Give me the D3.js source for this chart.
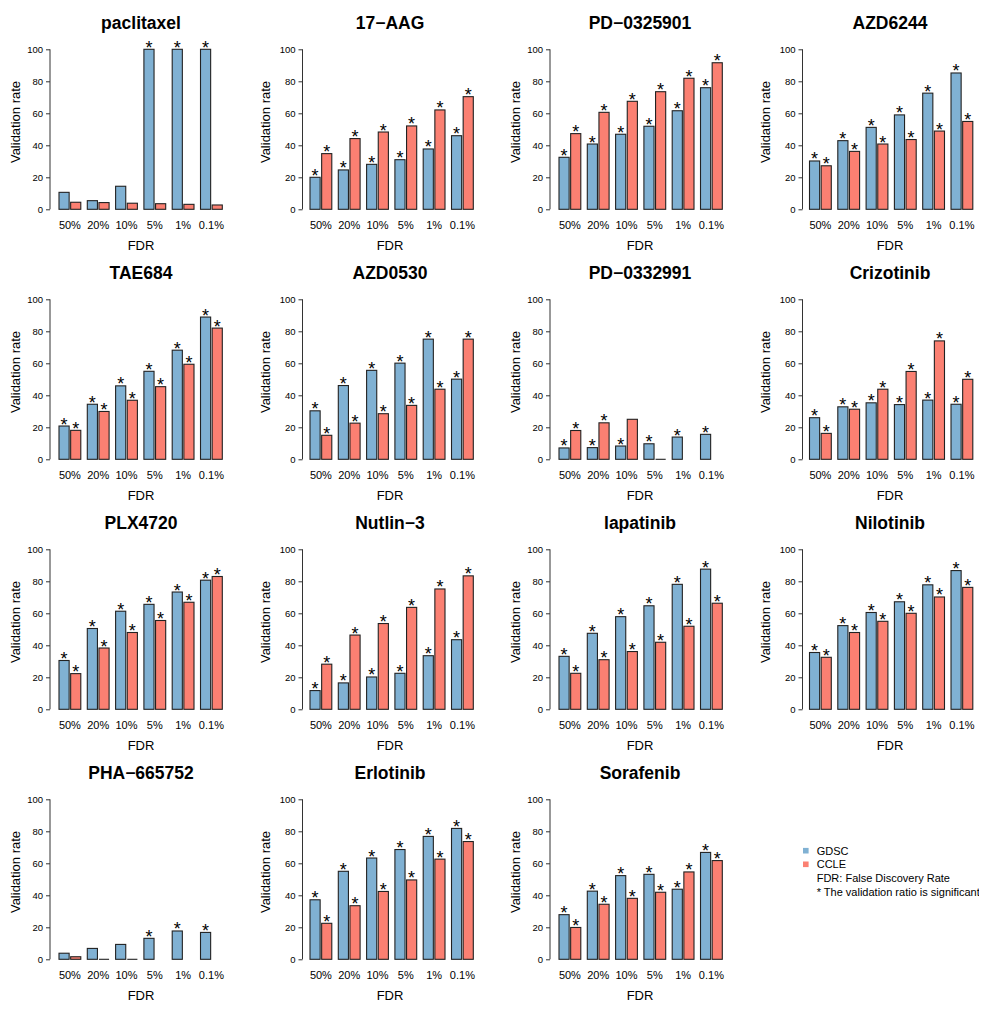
<!DOCTYPE html>
<html lang="en">

<head>
    <meta charset="UTF-8">
    <title>Validation rate by FDR</title>
    <script src="https://d3js.org/d3.v7.min.js"></script>
    <style>
        body {
            margin: 0;
            background: #fff;
        }

        svg text {
            font-family: "Liberation Sans", Arial, Helvetica, sans-serif;
            fill: #000;
        }

        .title {
            font-size: 17.5px;
            font-weight: bold;
        }

        .tick text {
            font-size: 9.5px;
        }
    </style>
</head>

<body>
    <svg id="chart" width="1000" height="1012"></svg>
    <script>
        // data (percent); null = no bar
        let fdr = ["50%", "20%", "10%", "5%", "1%", "0.1%"]
        let drugs = ["paclitaxel", "17\u2212AAG", "PD\u22120325901", "AZD6244",
            "TAE684", "AZD0530", "PD\u22120332991", "Crizotinib",
            "PLX4720", "Nutlin\u22123", "lapatinib", "Nilotinib",
            "PHA\u2212665752", "Erlotinib", "Sorafenib"]

        let gdsc = [
            [10.6, 5.4, 14.4, 100, 100, 100],
            [20.0, 24.6, 28.1, 31.0, 37.7, 46.0],
            [32.5, 40.8, 46.9, 51.9, 61.6, 76.0],
            [30.2, 42.9, 51.2, 59.0, 72.6, 85.2],
            [20.8, 34.4, 45.9, 55.0, 68.2, 88.9],
            [30.3, 46.1, 55.6, 60.1, 75.1, 50.1],
            [7.1, 7.3, 8.3, 9.7, 13.9, 15.6],
            [26.0, 32.8, 35.3, 34.2, 37.0, 34.4],
            [30.5, 50.5, 61.3, 65.6, 73.3, 80.7],
            [11.7, 16.5, 20.2, 22.5, 33.5, 43.5],
            [33.1, 47.5, 57.9, 64.7, 78.1, 87.6],
            [35.5, 52.3, 60.5, 67.2, 77.8, 86.7],
            [3.8, 6.8, 9.3, 13.1, 17.7, 16.8],
            [37.2, 55.0, 63.3, 68.6, 76.8, 81.8],
            [27.9, 42.6, 52.3, 53.1, 43.8, 66.8]
        ]
        let ccle = [
            [4.4, 4.2, 3.8, 3.5, 3.1, 2.7],
            [34.8, 44.2, 48.3, 52.1, 62.1, 70.4],
            [47.3, 60.6, 67.5, 73.5, 81.9, 91.6],
            [27.2, 36.2, 40.8, 43.6, 48.9, 54.9],
            [18.1, 29.9, 36.9, 45.4, 59.4, 82.0],
            [15.0, 22.6, 28.5, 33.7, 43.8, 75.1],
            [18.0, 22.8, 25.0, 0, null, null],
            [16.2, 31.3, 43.8, 54.9, 74.0, 50.0],
            [22.3, 38.3, 48.0, 55.5, 66.9, 83.0],
            [28.2, 46.4, 53.6, 63.7, 75.2, 83.4],
            [22.5, 31.0, 36.1, 41.9, 51.9, 66.3],
            [32.5, 48.0, 55.0, 60.0, 70.2, 76.2],
            [1.6, 0, 0, null, null, null],
            [22.5, 33.5, 42.4, 49.6, 62.6, 73.6],
            [19.9, 34.4, 38.1, 41.9, 54.6, 61.7]
        ]
        // 1 = significant (asterisk)
        let gdscStar = [
            [0, 0, 0, 1, 1, 1], [1, 1, 1, 1, 1, 1], [1, 1, 1, 1, 1, 1], [1, 1, 1, 1, 1, 1],
            [1, 1, 1, 1, 1, 1], [1, 1, 1, 1, 1, 1], [1, 1, 1, 1, 1, 1], [1, 1, 1, 1, 1, 1],
            [1, 1, 1, 1, 1, 1], [1, 1, 1, 1, 1, 1], [1, 1, 1, 1, 1, 1], [1, 1, 1, 1, 1, 1],
            [0, 0, 0, 1, 1, 1], [1, 1, 1, 1, 1, 1], [1, 1, 1, 1, 1, 1]
        ]
        let ccleStar = [
            [0, 0, 0, 0, 0, 0], [1, 1, 1, 1, 1, 1], [1, 1, 1, 1, 1, 1], [1, 1, 1, 1, 1, 1],
            [1, 1, 1, 1, 1, 1], [1, 1, 1, 1, 1, 1], [1, 1, 0, 0, 0, 0], [1, 1, 1, 1, 1, 1],
            [1, 1, 1, 1, 1, 1], [1, 1, 1, 1, 1, 1], [1, 1, 1, 1, 1, 1], [1, 1, 1, 1, 1, 1],
            [0, 0, 0, 0, 0, 0], [1, 1, 1, 1, 1, 1], [1, 1, 1, 1, 1, 1]
        ]
        let series = ["GDSC", "CCLE"]
        let colors = ["#80B1D3", "#FB8072"]
        let yTicks = [0, 20, 40, 60, 80, 100]
        let legendLines = ["FDR: False Discovery Rate", "* The validation ratio is significant"]

        // panel layout (px)
        let axisX = [50, 302.5, 550, 802.5]
        let barX = [59, 310, 559, 809.5]
        let midX = [141, 390, 640, 890]
        let ylabX = [15, 265, 515, 765]
        let rowH = 250

        let svg = d3.select("#chart")
        let y = d3.scaleLinear().domain([0, 100]).range([209.3, 49.3])
        let color = d3.scaleOrdinal().domain(series).range(colors)

        drugs.forEach(function (drug, i) {
            let col = i % 4, row = Math.floor(i / 4)
            let g = svg.append("g").attr("transform", `translate(0,${row * rowH})`)

            let x0 = d3.scaleBand().domain(fdr)
                .range([barX[col], barX[col] + 163.3])
                .paddingInner(0.23).paddingOuter(0)
            let x1 = d3.scaleBand().domain(series)
                .range([0, x0.bandwidth()])
                .paddingInner(0.13).paddingOuter(0)

            g.append("text").attr("class", "title")
                .attr("x", midX[col]).attr("y", 29)
                .attr("text-anchor", "middle").text(drug)

            let axis = g.append("g")
                .attr("transform", `translate(${axisX[col]},0)`)
                .call(d3.axisLeft(y).tickValues(yTicks).tickSize(4).tickPadding(3))
            axis.selectAll("path, line").attr("stroke", "#333")
            axis.select(".domain").attr("d", `M0,${y(0)}V${y(100)}`)

            g.append("text")
                .attr("transform", `translate(${ylabX[col]},122) rotate(-90)`)
                .attr("text-anchor", "middle")
                .attr("dy", "0.35em")
                .style("font-size", "13px")
                .text("Validation rate")

            let rows = []
            fdr.forEach(function (f, j) {
                rows.push({ f: f, s: "GDSC", v: gdsc[i][j], star: gdscStar[i][j] })
                rows.push({ f: f, s: "CCLE", v: ccle[i][j], star: ccleStar[i][j] })
            })
            let present = rows.filter(d => d.v !== null)

            g.selectAll("rect.bar")
                .data(present.filter(d => d.v > 0))
                .enter().append("rect")
                .attr("class", "bar")
                .attr("x", d => x0(d.f) + x1(d.s))
                .attr("y", d => y(d.v))
                .attr("width", x1.bandwidth())
                .attr("height", d => y(0) - y(d.v))
                .attr("fill", d => color(d.s))
                .attr("stroke", "#222")
                .attr("stroke-width", 1.1)

            // zero-height bars show as a flat line
            g.selectAll("line.zero")
                .data(present.filter(d => d.v === 0))
                .enter().append("line")
                .attr("x1", d => x0(d.f) + x1(d.s))
                .attr("x2", d => x0(d.f) + x1(d.s) + x1.bandwidth())
                .attr("y1", y(0)).attr("y2", y(0))
                .attr("stroke", "#222")
                .attr("stroke-width", 1.1)

            g.selectAll("text.star")
                .data(present.filter(d => d.star))
                .enter().append("text")
                .attr("x", d => x0(d.f) + x1(d.s) + x1.bandwidth() / 2)
                .attr("y", d => y(d.v) + 4.5)
                .attr("text-anchor", "middle")
                .style("font-size", "18px")
                .text("*")

            g.selectAll("text.xlab")
                .data(fdr)
                .enter().append("text")
                .attr("x", d => x0(d) + x0.bandwidth() / 2)
                .attr("y", 229)
                .attr("text-anchor", "middle")
                .style("font-size", "11px")
                .text(d => d)

            g.append("text")
                .attr("x", midX[col]).attr("y", 249.5)
                .attr("text-anchor", "middle")
                .style("font-size", "13px")
                .text("FDR")
        })

        // legend
        svg.append("clipPath").attr("id", "legclip")
            .append("rect").attr("x", 780).attr("y", 830).attr("width", 199).attr("height", 80)
        let leg = svg.append("g").attr("clip-path", "url(#legclip)")
        let legY = [850.7, 864.3, 878.3, 891.7]
        series.forEach(function (s, k) {
            leg.append("rect")
                .attr("x", 803).attr("y", legY[k] - 2.8)
                .attr("width", 5.6).attr("height", 5.6)
                .attr("fill", color(s))
            leg.append("text")
                .attr("x", 816.7).attr("y", legY[k]).attr("dy", "0.35em")
                .style("font-size", "11px").text(s)
        })
        legendLines.forEach(function (t, k) {
            leg.append("text")
                .attr("x", 816.7).attr("y", legY[k + 2]).attr("dy", "0.35em")
                .style("font-size", "11px").text(t)
        })
    </script>
</body>

</html>
